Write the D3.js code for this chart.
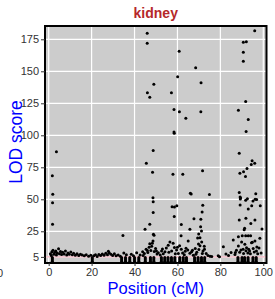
<!DOCTYPE html>
<html>
<head>
<meta charset="utf-8">
<script src="https://cdn.jsdelivr.net/npm/d3@7"></script>
<style>
  body { margin: 0; background: #fff; }
  svg { display: block; font-family: "Liberation Sans", Arial, sans-serif; }
</style>
</head>
<body>
<div id="chart"></div>
<script>
var xTicks = [0, 20, 40, 60, 80, 100];
var yTicks = [5, 25, 50, 75, 100, 125, 150, 175];
var threshold = 5;

// tall peaks [position, lod]
var peakPoints = [
  [45.9,179.7],[45.9,171.9],[49.0,139.8],[46.0,133.3],[47.1,129.7],[3.6,87.2],[48.7,88.1],[45.5,78.1],[48.4,71.1],[1.7,68.4],
  [96.0,181.7],[90.7,172.7],[92.1,173.1],[60.8,165.6],[90.7,164.8],[90.7,157.8],[68.5,152.8],[60.1,145.8],[71.0,141.1],
  [57.2,133.3],[91.8,126.4],[58.4,120.1],[60.9,118.4],[70.9,118.4],[88.4,119.5],[63.9,113.3],[93.0,112.3],[58.4,102.6],
  [58.5,101.6],[92.0,103.0],[88.8,85.9],[71.7,72.3],[57.9,69.5],[62.5,69.5],[94.8,80.2],[96.0,78.1],[94.4,77.1],
  [92.4,74.0],[90.8,71.6],[89.1,70.3],[91.7,67.9]
];

// medium values
var midPoints = [
  [1.9,53.9],[1.8,47.4],[1.8,30.5],[48.6,51.3],[48.7,48.1],[48.7,39.7],[47.1,30.5],[44.9,26.6],[34.6,21.7],
  [48.8,22.6],[49.1,22.0],[57.5,44.2],[58.6,43.9],[59.7,44.9],[58.5,36.6],[61.8,30.3],[67.7,34.8],[65.8,26.6],
  [61.7,21.6],[66.0,54.7],[66.4,54.1],[74.9,53.7],[71.8,45.3],[71.5,40.0],[70.9,34.4],[70.8,28.5],[71.2,25.2],
  [69.9,22.8],[69.4,19.8],[88.8,55.4],[89.2,51.8],[89.4,51.0],[89.3,50.3],[96.5,54.3],[96.2,50.0],[96.9,49.8],
  [95.2,48.7],[91.8,49.2],[92.6,50.5],[94.6,45.0],[93.0,42.4],[98.6,45.0],[89.2,45.5],[91.9,35.2],[88.8,33.8],
  [96.1,33.8],[94.2,31.0],[91.3,27.4],[91.1,26.3],[99.4,26.8],[90.2,21.6],[91.8,21.6],[93.0,21.6],[94.1,21.6],
  [86.0,18.2],[88.4,20.8],[98.4,19.5],[81.4,13.0]
];

// low band of markers
var bandPoints = [
  [0.8,7.5],[1.2,6.0],[1.5,9.0],[2.0,10.2],[2.4,7.0],[2.8,8.4],[3.3,9.6],[3.6,6.5],[4.0,8.0],[4.6,11.4],
  [5.0,7.4],[5.5,9.2],[6.0,6.8],[6.5,8.6],[7.2,7.2],[7.8,9.6],[8.4,6.4],[9.0,8.0],[9.6,7.0],[10.3,8.8],
  [11.0,6.6],[11.6,7.8],[12.4,6.2],[13.2,7.4],[14.0,6.0],[14.8,7.0],[15.6,6.4],[16.6,5.8],[17.5,6.6],[18.6,5.6],
  [19.6,6.2],[21.0,5.8],[21.8,6.6],[22.6,5.4],[23.4,6.8],[24.2,6.0],[25.0,7.2],[25.8,6.2],[26.6,7.8],[27.4,6.6],
  [27.8,9.4],[28.2,8.2],[29.0,7.0],[29.8,6.0],[30.6,7.4],[31.4,5.8],[32.4,6.4],[33.4,5.6],[35.0,8.0],[36.2,6.6],
  [38.5,7.0],[39.5,5.8],[41.0,8.2],[42.6,6.4],[43.8,9.0],[44.6,7.6],[45.4,11.0],[46.2,8.4],[46.8,12.6],[47.1,15.3],
  [47.6,10.0],[48.0,13.4],[48.3,15.6],[48.6,17.4],[49.2,9.2],[49.8,11.6],[50.5,7.2],[51.1,8.3],[52.0,6.4],[52.6,9.6],
  [53.4,7.4],[54.2,9.0],[54.8,12.0],[55.7,14.1],[56.5,16.6],[57.3,9.6],[58.0,15.6],[58.6,12.4],[59.6,10.4],[60.4,7.6],
  [61.0,13.8],[61.8,11.0],[62.4,8.0],[63.2,6.6],[64.0,11.8],[64.8,10.4],[65.0,17.4],[65.8,7.8],[66.6,9.0],[67.4,6.2],
  [68.3,11.5],[69.0,8.6],[69.8,15.0],[70.5,13.8],[70.5,20.0],[71.3,16.6],[71.9,9.6],[72.5,13.3],[72.6,11.0],[73.4,7.6],
  [74.2,6.0],[75.2,5.6],[76.0,5.4],[79.0,5.8],[79.6,5.2],[82.6,7.2],[83.8,6.0],[85.0,8.4],[86.8,6.8],[87.5,10.2],
  [88.4,13.5],[89.0,8.6],[89.9,16.6],[90.6,11.0],[91.4,14.8],[92.2,12.2],[92.8,8.0],[93.6,9.6],[94.5,16.0],[94.9,16.4],
  [95.3,11.5],[96.1,17.4],[96.8,9.6],[97.4,7.4],[98.0,12.0],[99.0,8.0],
  [44.0,6.0],[46.0,10.0],[50.2,9.6],[53.0,11.2],[56.0,8.6],[59.0,7.4],[60.0,12.6],[63.6,9.4],[67.0,10.2],[68.6,7.0],
  [70.0,10.8],[71.6,7.6],[87.0,8.4],[89.6,10.4],[90.8,7.6],[91.9,9.8],[93.2,11.0],[94.0,7.4],[95.8,8.8],[97.0,12.8]
];

// stacked markers at the same position
var strandPoints = [
  [1.7,0.6],[1.7,1.6],[1.7,2.6],[1.7,3.6],[1.7,4.6],[20.3,0.6],[20.3,1.6],[20.3,2.6],[20.3,3.6],[20.3,4.6],
  [34.0,0.6],[34.0,1.6],[34.0,2.6],[34.0,3.6],[34.0,4.6],[35.8,0.6],[35.8,1.6],[35.8,2.6],[35.8,3.6],[35.8,4.6],
  [37.8,0.6],[37.8,1.6],[37.8,2.6],[37.8,3.6],[37.8,4.6],[40.0,0.6],[40.0,1.6],[40.0,2.6],[40.0,3.6],[40.0,4.6],
  [42.0,0.6],[42.0,1.6],[42.0,2.6],[42.0,3.6],[42.0,4.6],[45.0,0.6],[45.0,1.6],[45.0,2.6],[45.0,3.6],[45.0,4.6],
  [47.4,0.6],[47.4,1.6],[47.4,2.6],[47.4,3.6],[47.4,4.6],[49.0,0.6],[49.0,1.6],[49.0,2.6],[49.0,3.6],[49.0,4.6],
  [52.5,0.6],[52.5,1.6],[52.5,2.6],[52.5,3.6],[52.5,4.6],[54.1,0.6],[54.1,1.6],[54.1,2.6],[54.1,3.6],[54.1,4.6],
  [55.6,0.6],[55.6,1.6],[55.6,2.6],[55.6,3.6],[55.6,4.6],[57.2,0.6],[57.2,1.6],[57.2,2.6],[57.2,3.6],[57.2,4.6],
  [58.8,0.6],[58.8,1.6],[58.8,2.6],[58.8,3.6],[58.8,4.6],[61.1,0.6],[61.1,1.6],[61.1,2.6],[61.1,3.6],[61.1,4.6],
  [62.7,0.6],[62.7,1.6],[62.7,2.6],[62.7,3.6],[62.7,4.6],[64.2,0.6],[64.2,1.6],[64.2,2.6],[64.2,3.6],[64.2,4.6],
  [68.0,0.6],[68.0,1.6],[68.0,2.6],[68.0,3.6],[68.0,4.6],[69.6,0.6],[69.6,1.6],[69.6,2.6],[69.6,3.6],[69.6,4.6],
  [71.2,0.6],[71.2,1.6],[71.2,2.6],[71.2,3.6],[71.2,4.6],[72.7,0.6],[72.7,1.6],[72.7,2.6],[72.7,3.6],[72.7,4.6],
  [88.2,0.6],[88.2,1.6],[88.2,2.6],[88.2,3.6],[88.2,4.6],[90.1,0.6],[90.1,1.6],[90.1,2.6],[90.1,3.6],[90.1,4.6],
  [91.3,0.6],[91.3,1.6],[91.3,2.6],[91.3,3.6],[91.3,4.6],[92.9,0.6],[92.9,1.6],[92.9,2.6],[92.9,3.6],[92.9,4.6],
  [95.2,0.6],[95.2,1.6],[95.2,2.6],[95.2,3.6],[95.2,4.6],[96.7,0.6],[96.7,1.6],[96.7,2.6],[96.7,3.6],[96.7,4.6]
];

var width = 275, height = 299;
var panel = {left: 45, right: 266.5, top: 26, bottom: 263};

var svg = d3.select("#chart").append("svg")
    .attr("width", width)
    .attr("height", height);

var x = d3.scaleLinear()
    .domain([-1.72, 101.5])
    .range([panel.left, panel.right]);

var y = d3.scaleLinear()
    .domain([0.23, 185.4])
    .range([panel.bottom, panel.top]);

// panel background
svg.append("rect")
    .attr("x", panel.left)
    .attr("y", panel.top)
    .attr("width", panel.right - panel.left)
    .attr("height", panel.bottom - panel.top)
    .attr("fill", "#cccccc");

// grid
svg.append("g").selectAll("line").data(xTicks).enter().append("line")
    .attr("x1", d => x(d)).attr("x2", d => x(d))
    .attr("y1", panel.top).attr("y2", panel.bottom)
    .attr("stroke", "#fff").attr("stroke-width", 1.2);

svg.append("g").selectAll("line").data(yTicks).enter().append("line")
    .attr("x1", panel.left).attr("x2", panel.right)
    .attr("y1", d => y(d)).attr("y2", d => y(d))
    .attr("stroke", "#fff").attr("stroke-width", 1.2);

// threshold line
svg.append("line")
    .attr("x1", panel.left).attr("x2", panel.right)
    .attr("y1", y(threshold)).attr("y2", y(threshold))
    .attr("stroke", "#f2b3c0").attr("stroke-width", 1.2);

var allPoints = strandPoints.concat(bandPoints, midPoints, peakPoints);

svg.append("g").selectAll("circle").data(allPoints).enter().append("circle")
    .attr("cx", d => x(d[0]))
    .attr("cy", d => y(d[1]))
    .attr("r", 1.5)
    .attr("fill", "#000");

// border
svg.append("rect")
    .attr("x", panel.left)
    .attr("y", panel.top)
    .attr("width", panel.right - panel.left)
    .attr("height", panel.bottom - panel.top)
    .attr("fill", "none")
    .attr("stroke", "#000")
    .attr("stroke-width", 2);

// axes
var yAxis = d3.axisLeft(y).tickValues(yTicks).tickSize(4).tickPadding(2);
var gy = svg.append("g")
    .attr("transform", "translate(" + panel.left + ",0)")
    .call(yAxis);

var xAxis = d3.axisBottom(x).tickValues(xTicks).tickSize(3).tickPadding(2);
var gx = svg.append("g")
    .attr("transform", "translate(0," + panel.bottom + ")")
    .call(xAxis);

[gx, gy].forEach(function(g) {
    g.select(".domain").remove();
    g.selectAll(".tick line").attr("stroke", "#333");
    g.selectAll(".tick text")
        .attr("fill", "#333")
        .style("font-size", "11px")
        .style("font-family", "Liberation Sans, Arial, sans-serif");
});

// neighbouring panel label, cut off at the left edge
svg.append("text")
    .attr("x", 3)
    .attr("y", 277)
    .attr("text-anchor", "end")
    .attr("fill", "#333")
    .style("font-size", "11px")
    .text("100");

svg.append("text")
    .attr("x", (panel.left + panel.right) / 2)
    .attr("y", 18)
    .attr("text-anchor", "middle")
    .attr("fill", "#b5282a")
    .style("font-size", "14px")
    .style("font-weight", "bold")
    .text("kidney");

svg.append("text")
    .attr("transform", "translate(21.5,142) rotate(-90)")
    .attr("text-anchor", "middle")
    .attr("fill", "#0000ff")
    .style("font-size", "17.5px")
    .text("LOD score");

svg.append("text")
    .attr("x", (panel.left + panel.right) / 2)
    .attr("y", 294)
    .attr("text-anchor", "middle")
    .attr("fill", "#0000ff")
    .style("font-size", "16.5px")
    .text("Position (cM)");
</script>
</body>
</html>
